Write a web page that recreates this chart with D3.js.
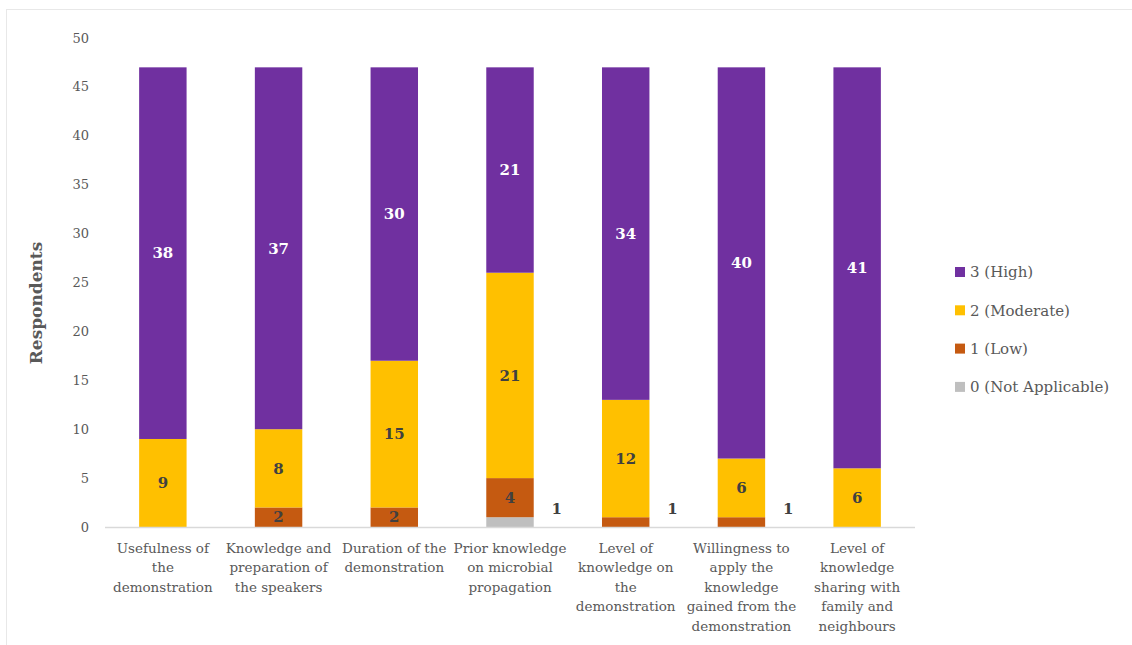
<!DOCTYPE html>
<html>
<head>
<meta charset="utf-8">
<script src="https://cdn.jsdelivr.net/npm/d3@7"></script>
<style>
  html, body { margin: 0; padding: 0; background: #fff; }
  svg { display: block; }
</style>
</head>
<body>
<svg id="chart" width="1132" height="645"></svg>
<script>
// Survey categories (line breaks mark label wrapping)
const categories = [
  "Usefulness of\nthe\ndemonstration",
  "Knowledge and\npreparation of\nthe speakers",
  "Duration of the\ndemonstration",
  "Prior knowledge\non microbial\npropagation",
  "Level of\nknowledge on\nthe\ndemonstration",
  "Willingness to\napply the\nknowledge\ngained from the\ndemonstration",
  "Level of\nknowledge\nsharing with\nfamily and\nneighbours"
];

// Respondent counts per rating level
const notApplicable = [0, 0, 0, 1, 0, 0, 0];
const low           = [0, 2, 2, 4, 1, 1, 0];
const moderate      = [9, 8, 15, 21, 12, 6, 6];
const high          = [38, 37, 30, 21, 34, 40, 41];

const seriesNames = ["0 (Not Applicable)", "1 (Low)", "2 (Moderate)", "3 (High)"];
const seriesColors = ["#BFBFBF", "#C55A11", "#FFC000", "#7030A0"];
const labelColors = ["#404040", "#404040", "#404040", "#ffffff"];
const yTicks = [0, 5, 10, 15, 20, 25, 30, 35, 40, 45, 50];

const seriesValues = [notApplicable, low, moderate, high];

const svg = d3.select("#chart");
const serif = "'DejaVu Serif', serif";
const textGrey = "#595959";

// outer frame (right and bottom edges fall outside the canvas)
svg.append("rect")
  .attr("x", 6.5).attr("y", 9.5).attr("width", 1200).attr("height", 700)
  .attr("fill", "none").attr("stroke", "#e8e8e8");

const plot = { left: 105, right: 915, top: 38, bottom: 527 };

const x = d3.scaleBand().domain(d3.range(categories.length))
  .range([plot.left, plot.right]).padding(0);
const y = d3.scaleLinear().domain([0, 50]).range([plot.bottom, plot.top]);
const barW = x.bandwidth() * 0.41;

// stacked layout
const rows = categories.map((c, i) => {
  const r = { i };
  seriesNames.forEach((s, k) => { r[s] = seriesValues[k][i]; });
  return r;
});
const stacked = d3.stack().keys(seriesNames)(rows);

// y tick labels
svg.append("g").selectAll("text").data(yTicks).join("text")
  .attr("x", 89).attr("y", d => y(d))
  .attr("dy", "0.35em").attr("text-anchor", "end")
  .attr("font-family", serif).attr("font-size", 13).attr("fill", textGrey)
  .text(d => d);

// bars
stacked.forEach((layer, k) => {
  svg.append("g").selectAll("rect").data(layer).join("rect")
    .attr("x", (d, i) => x(i) + x.bandwidth() / 2 - barW / 2)
    .attr("width", barW)
    .attr("y", d => y(d[1]))
    .attr("height", d => y(d[0]) - y(d[1]))
    .attr("fill", seriesColors[k]);
});

// x axis baseline
svg.append("line")
  .attr("x1", plot.left).attr("x2", plot.right)
  .attr("y1", plot.bottom + 0.5).attr("y2", plot.bottom + 0.5)
  .attr("stroke", "#d9d9d9").attr("stroke-width", 1.3);

// value labels
stacked.forEach((layer, k) => {
  svg.append("g").selectAll("text").data(layer.filter(d => d[1] - d[0] > 0)).join("text")
    .each(function(d) {
      const i = d.data.i;
      const v = d[1] - d[0];
      const cx = x(i) + x.bandwidth() / 2;
      const t = d3.select(this);
      if (v < 2) {
        // thin segments: label sits beside the bar
        t.attr("x", cx + barW / 2 + 23).attr("y", y(d[1]) - 8).attr("fill", "#404040");
      } else {
        t.attr("x", cx).attr("y", y((d[0] + d[1]) / 2)).attr("fill", labelColors[k]);
      }
    })
    .attr("dy", "0.35em").attr("text-anchor", "middle")
    .attr("font-family", serif).attr("font-weight", "bold").attr("font-size", 15)
    .text(d => d[1] - d[0]);
});

// category labels
svg.append("g").selectAll("text").data(categories).join("text")
  .attr("x", (d, i) => x(i) + x.bandwidth() / 2)
  .attr("y", 553)
  .attr("text-anchor", "middle")
  .attr("font-family", serif).attr("font-size", 13.5).attr("fill", textGrey)
  .each(function(d) {
    const t = d3.select(this);
    d.split("\n").forEach((line, j) => {
      t.append("tspan").attr("x", t.attr("x")).attr("dy", j === 0 ? 0 : 19.4).text(line);
    });
  });

// y axis title
svg.append("text")
  .attr("transform", "translate(42,303) rotate(-90)")
  .attr("text-anchor", "middle")
  .attr("font-family", serif).attr("font-weight", "bold").attr("font-size", 17)
  .attr("fill", textGrey)
  .text("Respondents");

// legend (highest level first)
const legendOrder = [3, 2, 1, 0];
const lg = svg.append("g").selectAll("g").data(legendOrder).join("g")
  .attr("transform", (d, j) => `translate(955, ${272 + j * 38.3})`);
lg.append("rect").attr("x", 0).attr("y", -5).attr("width", 10).attr("height", 10)
  .attr("fill", d => seriesColors[d]);
lg.append("text").attr("x", 15).attr("y", 0).attr("dy", "0.35em")
  .attr("font-family", serif).attr("font-size", 15).attr("fill", textGrey)
  .text(d => seriesNames[d]);
</script>
</body>
</html>
